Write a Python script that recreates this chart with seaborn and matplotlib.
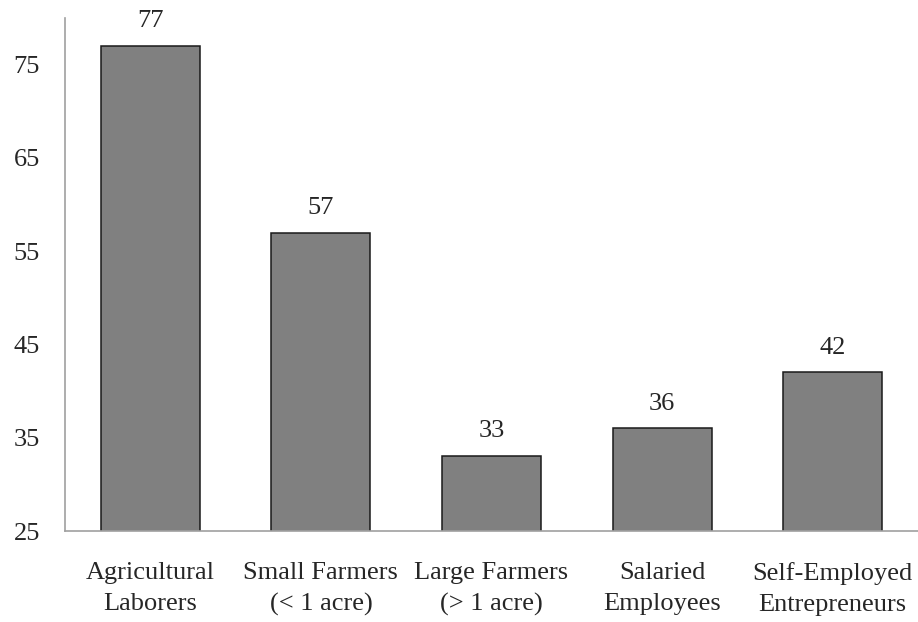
import pandas as pd
import matplotlib.pyplot as plt
import seaborn as sns

# data
categories = ['Agricultural\nLaborers', 'Small Farmers\n(< 1 acre)', 'Large Farmers\n(> 1 acre)',
              'Salaried\nEmployees', 'Self-Employed\nEntrepreneurs']
values = [77, 57, 33, 36, 42]
yticks = [25, 35, 45, 55, 65, 75]

df = pd.DataFrame({'group': categories, 'value': values})

sns.set_style('white')
plt.rcParams['font.family'] = ['Liberation Serif', 'DejaVu Serif']

fig = plt.figure(figsize=(9.18, 6.22), dpi=100)
ax = fig.add_axes([0.0708, 0.1463, 0.9292, 0.8247])

sns.barplot(data=df, x='group', y='value', color='#808080', saturation=1,
            width=0.58, edgecolor='#1a1a1a', linewidth=1.1, ax=ax)
ax.bar_label(ax.containers[0], padding=10, fontsize=19)

ax.set_ylim(25, 80)
ax.set_xlim(-0.5, 4.5)
ax.set_yticks(yticks)
ax.set_xlabel('')
ax.set_ylabel('')
ax.tick_params(axis='y', length=0, pad=18, labelsize=19)
ax.tick_params(axis='x', length=0, pad=22, labelsize=19)
for lbl in ax.get_xticklabels():
    lbl.set_linespacing(1.55)

for side in ['top', 'right']:
    ax.spines[side].set_visible(False)
for side in ['left', 'bottom']:
    ax.spines[side].set_color('#a0a0a0')
    ax.spines[side].set_linewidth(1.2)

fig.savefig('out.png', dpi=100)
